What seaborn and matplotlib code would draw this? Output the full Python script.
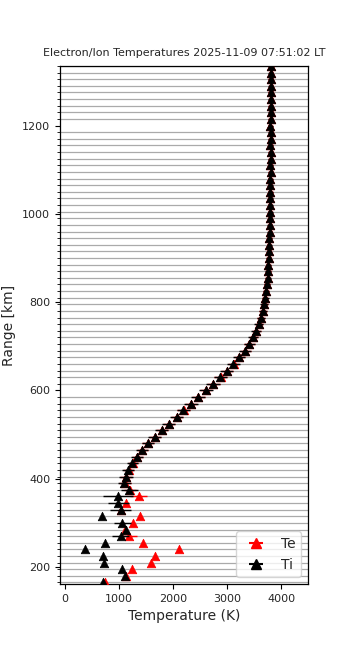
import numpy as np
import pandas as pd
import matplotlib
matplotlib.use("Agg")
import matplotlib.pyplot as plt
import seaborn as sns

# Range gates (km)
ranges = [165 + 15 * k for k in range(79)]

ti = [700, 1100, 1055, 710, 700, 370, 730, 1025, 1125, 1055,
      675, 1025, 985, 985, 1190, 1090, 1120, 1165, 1245, 1330,
      1420, 1530, 1655, 1785, 1915, 2065, 2190, 2330, 2465, 2605,
      2740, 2875, 2995, 3115, 3225, 3330, 3410, 3485, 3540, 3590,
      3630, 3660, 3685, 3705, 3722, 3738, 3750, 3760, 3766, 3772,
      3778, 3782, 3786, 3790, 3793, 3796, 3799, 3797, 3801, 3803,
      3800, 3804, 3806, 3802, 3805, 3807, 3803, 3806, 3808, 3804,
      3807, 3809, 3805, 3808, 3806, 3810, 3807, 3809, 3808]

te = [730, 1120, 1245, 1585, 1670, 2115, 1435, 1175, 1110, 1265,
      1395, 1040, 1125, 1358, 1200, 1100, 1130, 1175, 1255, 1338,
      1426, 1536, 1660, 1790, 1920, 2070, 2195, 2335, 2470, 2610,
      2745, 2880, 3000, 3120, 3230, 3335, 3414, 3489, 3543, 3593,
      3632, 3662, 3686, 3706, 3723, 3738, 3750, 3760, 3766, 3772,
      3778, 3782, 3786, 3790, 3793, 3796, 3799, 3797, 3801, 3803,
      3800, 3804, 3806, 3802, 3805, 3807, 3803, 3806, 3808, 3804,
      3807, 3809, 3805, 3808, 3806, 3810, 3807, 3809, 3808]

ti_err = [0, 0, 0, 0, 0, 0, 0, 150, 0, 160,
          0, 200, 200, 280, 150, 120, 130, 110, 100, 110,
          110, 115, 120, 120, 125, 125, 125, 125, 125, 125,
          125, 125, 120, 120, 115, 110, 100, 95, 90, 85,
          80, 75, 70, 65, 60, 55, 55, 50, 50, 50,
          45, 45, 45, 45, 45, 45, 45, 45, 45, 45,
          45, 45, 45, 45, 45, 45, 45, 45, 45, 45,
          45, 45, 45, 45, 45, 45, 45, 45, 45]

te_err = [0, 0, 0, 0, 0, 0, 0, 150, 0, 0,
          0, 0, 0, 150, 120, 110, 110, 100, 100, 100,
          100, 105, 110, 110, 115, 115, 115, 115, 115, 115,
          115, 115, 110, 110, 105, 100, 95, 90, 85, 80,
          75, 70, 65, 60, 55, 50, 50, 45, 45, 45,
          40, 40, 40, 40, 40, 40, 40, 40, 40, 40,
          40, 40, 40, 40, 40, 40, 40, 40, 40, 40,
          40, 40, 40, 40, 40, 40, 40, 40, 40]

title = "Electron/Ion Temperatures 2025-11-09 07:51:02 LT"

df = pd.DataFrame({"range": ranges, "Te": te, "Ti": ti,
                   "Te_err": te_err, "Ti_err": ti_err})

sns.set_style("ticks")
plt.rcParams["font.family"] = ["DejaVu Sans"]

fig = plt.figure(figsize=(3.5, 6.5), dpi=100)
ax = fig.add_axes([0.171, 0.1015, 0.709, 0.797])

# Te
ax.errorbar(df["Te"], df["range"], xerr=df["Te_err"], fmt="none",
            ecolor="red", elinewidth=1.0, zorder=3)
sns.scatterplot(data=df, x="Te", y="range", marker="^", color="red",
                s=38, edgecolor="red", linewidth=0.5, ax=ax, zorder=4,
                legend=False)
# Ti
ax.errorbar(df["Ti"], df["range"], xerr=df["Ti_err"], fmt="none",
            ecolor="black", elinewidth=1.0, zorder=5)
sns.scatterplot(data=df, x="Ti", y="range", marker="^", color="black",
                s=38, edgecolor="black", linewidth=0.5, ax=ax, zorder=6,
                legend=False)

# legend handles styled like errorbar entries
h_te = ax.errorbar([], [], xerr=[], fmt="^", color="red", ms=7, label="Te")
h_ti = ax.errorbar([], [], xerr=[], fmt="^", color="black", ms=7, label="Ti")
ax.legend(handles=[h_te, h_ti], loc="lower right", fontsize=10,
          frameon=True)

ax.set_xlim(-100, 4500)
ax.set_ylim(161.5, 1333.5)
ax.set_xticks([0, 1000, 2000, 3000, 4000])
ax.set_yticks([200, 400, 600, 800, 1000, 1200])
ax.set_yticks(ranges, minor=True)
ax.yaxis.grid(True, which="minor", color="#aaaaaa", linewidth=0.9)
ax.set_axisbelow(True)
ax.tick_params(axis="both", which="major", labelsize=8, length=3.5,
               width=0.8, color="black")
ax.tick_params(axis="y", which="minor", length=2, width=0.6, color="black")
for sp in ax.spines.values():
    sp.set_color("black")
    sp.set_linewidth(0.9)
    sp.set_visible(True)

ax.set_xlabel("Temperature (K)", fontsize=10)
ax.set_ylabel("Range [km]", fontsize=10)
ax.set_title(title, fontsize=8, pad=7)

fig.savefig("out.png", dpi=100)
